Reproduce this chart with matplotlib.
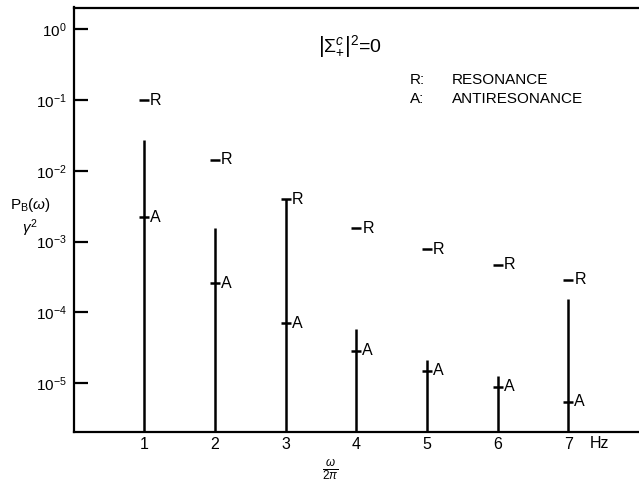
import matplotlib
matplotlib.use("Agg")
import matplotlib.pyplot as plt
from matplotlib.ticker import NullLocator

plt.rcParams['font.family'] = ['Liberation Sans', 'DejaVu Sans']
plt.rcParams['mathtext.fontset'] = 'custom'
plt.rcParams['mathtext.rm'] = 'Liberation Sans'
plt.rcParams['mathtext.it'] = 'Liberation Sans:italic'
plt.rcParams['mathtext.bf'] = 'Liberation Sans:bold'

# ---- data ----
freqs = [1, 2, 3, 4, 5, 6, 7]
resonance = [1.0e-1, 1.43e-2, 3.97e-3, 1.55e-3, 7.8e-4, 4.7e-4, 2.9e-4]
antiresonance = [2.2e-3, 2.6e-4, 7.0e-5, 2.9e-5, 1.5e-5, 9.0e-6, 5.5e-6]
line_top = [2.7e-2, 1.55e-3, 3.97e-3, 5.9e-5, 2.1e-5, 1.27e-5, 1.54e-4]
xtick_labels = ['1', '2', '3', '4', '5', '6', '7']
ytick_values = [1e0, 1e-1, 1e-2, 1e-3, 1e-4, 1e-5]
ytick_labels = [r'$10^{0}$', r'$10^{-1}$', r'$10^{-2}$', r'$10^{-3}$', r'$10^{-4}$', r'$10^{-5}$']

fig = plt.figure(figsize=(6.39, 4.88), dpi=100)
ax = fig.add_axes([73.5/639, 1-431.7/488, 1-73.5/639, (431.7-7.5)/488])

ymin = 10**-5.684
ymax = 10**0.308
ax.set_yscale('log')
ax.set_ylim(ymin, ymax)
ax.set_xlim(0, 8)

lw = 1.8
for f, top, r, a in zip(freqs, line_top, resonance, antiresonance):
    ax.vlines(f, ymin, top, color='black', lw=lw)
    ax.plot([f], [r], marker='_', ms=7, mew=lw, color='black')
    ax.plot([f], [a], marker='_', ms=7.5, mew=lw, color='black')
    ax.annotate('R', (f, r), xytext=(6, 0), textcoords='offset pixels',
                ha='left', va='center', fontsize=11.5)
    ax.annotate('A', (f, a), xytext=(6, 0), textcoords='offset pixels',
                ha='left', va='center', fontsize=11.5)

# spines
for s in ['left', 'bottom', 'top']:
    ax.spines[s].set_linewidth(1.6)
ax.spines['right'].set_visible(False)

# ticks
ax.set_yticks(ytick_values)
ax.set_yticklabels(ytick_labels)
ax.yaxis.set_minor_locator(NullLocator())
ax.tick_params(axis='y', direction='in', length=10, width=1.6, labelsize=11, pad=5)
ax.set_xticks(freqs)
ax.set_xticklabels(xtick_labels)
ax.tick_params(axis='x', length=0, labelsize=11.5, pad=4)

# annotations
fig.text(590/639, 1-443/488, 'Hz', ha='left', va='center', fontsize=11.5)
fig.text(30/639, 1-205/488, r'P$_\mathregular{B}$($\omega$)', ha='center', va='center', fontsize=11)
fig.text(30/639, 1-228/488, r'$\gamma^\mathregular{2}$', ha='center', va='center', fontsize=11)
fig.text(330/639, 1-470/488, r'$\frac{\omega}{2\pi}$', ha='center', va='center', fontsize=12)

fig.text(318/639, 1-46.7/488, r'$\left|\Sigma_{+}^{c}\right|^{2}$=0', ha='left', va='center', fontsize=14)
fig.text(410/639, 1-80/488, 'R:', ha='left', va='center', fontsize=11)
fig.text(451.7/639, 1-80/488, 'RESONANCE', ha='left', va='center', fontsize=11)
fig.text(410/639, 1-99/488, 'A:', ha='left', va='center', fontsize=11)
fig.text(451.7/639, 1-99/488, 'ANTIRESONANCE', ha='left', va='center', fontsize=11)

fig.savefig('out.png', dpi=100)
